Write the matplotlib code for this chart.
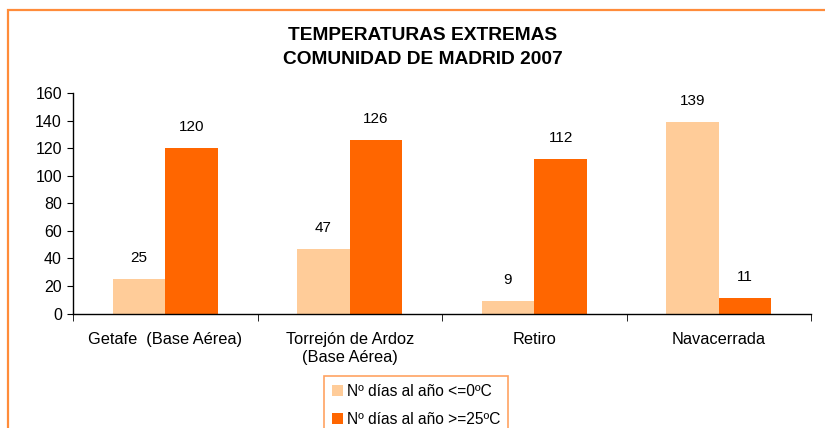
import numpy as np
import matplotlib; matplotlib.use("Agg")
import matplotlib.pyplot as plt
from matplotlib.patches import Rectangle

plt.rcParams["font.family"] = ["Liberation Sans", "DejaVu Sans"]

CATS = ["Getafe  (Base Aérea)", "Torrejón de Ardoz\n(Base Aérea)", "Retiro", "Navacerrada"]
FRIO = [25, 47, 9, 139]      # Nº días al año <=0ºC
CALOR = [120, 126, 112, 11]  # Nº días al año >=25ºC
SERIES = ["Nº días al año <=0ºC", "Nº días al año >=25ºC"]
COLORS = ["#FFCC99", "#FF6600"]

W, H = 825, 428
fig = plt.figure(figsize=(W / 100, H / 100), dpi=100)

# outer chart-area border (orange), runs off right/bottom edges
fig.patches.append(Rectangle((8 / W, -0.1), 1.2, 1 - 10 / H + 0.1, transform=fig.transFigure,
                             fill=False, edgecolor="#FF8C3A", lw=1.6, zorder=0))

ax = fig.add_axes([73 / W, 1 - 313.5 / H, (811 - 73) / W, (313.5 - 93) / H])
x = np.arange(len(CATS))
bw = 1 / 3.5
bars = []
for k, (vals, c, lab) in enumerate(zip([FRIO, CALOR], COLORS, SERIES)):
    b = ax.bar(x + (k - 0.5) * bw, vals, bw, color=c, label=lab, zorder=2)
    bars.append(b)
    for xi, v in zip(x + (k - 0.5) * bw, vals):
        ax.annotate(str(v), (xi, v), xytext=(0, 10), textcoords="offset points",
                    ha="center", va="bottom", fontsize=11)

ax.set_xlim(-0.5, len(CATS) - 0.5)
ax.set_ylim(0, 160)
ax.set_yticks(np.arange(0, 161, 20))
ax.set_xticks(x)
ax.set_xticklabels(CATS, fontsize=11.8, linespacing=1.25)
ax.set_xticks(np.arange(-0.5, len(CATS)), minor=True)
ax.tick_params(axis="x", which="major", length=0, pad=13)
ax.tick_params(axis="x", which="minor", length=5, direction="out")
ax.tick_params(axis="y", labelsize=11.5, length=4, direction="out", pad=4)
for s in ["top", "right"]:
    ax.spines[s].set_visible(False)
for s in ["left", "bottom"]:
    ax.spines[s].set_linewidth(1.0)

fig.text(0.512, 1 - 36 / H, "TEMPERATURAS EXTREMAS", ha="center", va="center",
         fontsize=13.8, fontweight="bold")
fig.text(0.512, 1 - 59 / H, "COMUNIDAD DE MADRID 2007", ha="center", va="center",
         fontsize=13.8, fontweight="bold")

leg = fig.legend(handles=bars, labels=SERIES, loc="upper left",
                 bbox_to_anchor=(324 / W, 1 - 376 / H), fontsize=11.2,
                 handlelength=0.7, handleheight=0.7, handletextpad=0.3,
                 labelspacing=0.85, borderpad=0.5, fancybox=False, borderaxespad=0)
leg.get_frame().set_edgecolor("#FF8C3A")
leg.get_frame().set_linewidth(1.2)

fig.savefig("out.png", dpi=100)
